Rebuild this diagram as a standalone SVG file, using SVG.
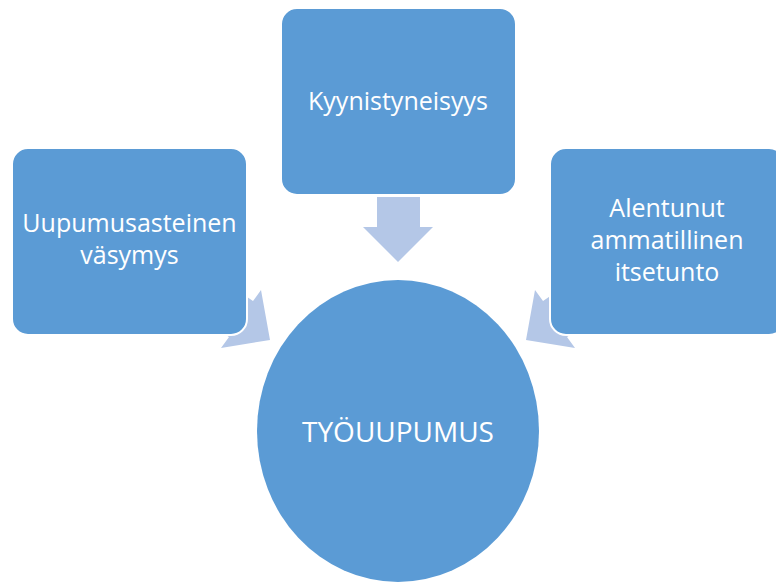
<svg xmlns="http://www.w3.org/2000/svg" width="776" height="582" viewBox="0 0 776 582">
<style>
.box{fill:#5B9BD5;stroke:#FFFFFF;stroke-width:2}
.arr{fill:#B4C7E7}
.t{font-family:"Open Sans","Noto Sans",sans-serif;font-size:25px;fill:#FFFFFF;text-anchor:middle}
.c{font-size:28px}
</style>
<rect width="776" height="582" fill="#FFFFFF"/>
<g id="connectors">
<polygon class="arr" points="377,197 420,197 420,227 433,227 398,262 363,227 377,227"/>
<polygon class="arr" points="228,284 253,301 261,290 270,340 221,348 229,337 204,320"/>
<polygon class="arr" points="568,284 543,301 535,290 526,340 575,348 567,337 592,320"/>
</g>
<g id="node-top">
<rect class="box" x="281" y="8" width="235" height="187" rx="16"/>
<text class="t" x="398" y="110">Kyynistyneisyys</text>
</g>
<g id="node-left">
<rect class="box" x="12" y="148" width="235" height="187" rx="16"/>
<text class="t" x="129.5" y="232">Uupumusasteinen</text>
<text class="t" x="129.5" y="264">väsymys</text>
</g>
<g id="node-right">
<rect class="box" x="550" y="148" width="235" height="187" rx="16"/>
<text class="t" x="667" y="217">Alentunut</text>
<text class="t" x="667" y="249">ammatillinen</text>
<text class="t" x="667" y="281">itsetunto</text>
</g>
<g id="node-center">
<ellipse cx="398" cy="431" rx="141" ry="151" fill="#5B9BD5"/>
<text class="t c" x="398" y="442">TYÖUUPUMUS</text>
</g>
</svg>
